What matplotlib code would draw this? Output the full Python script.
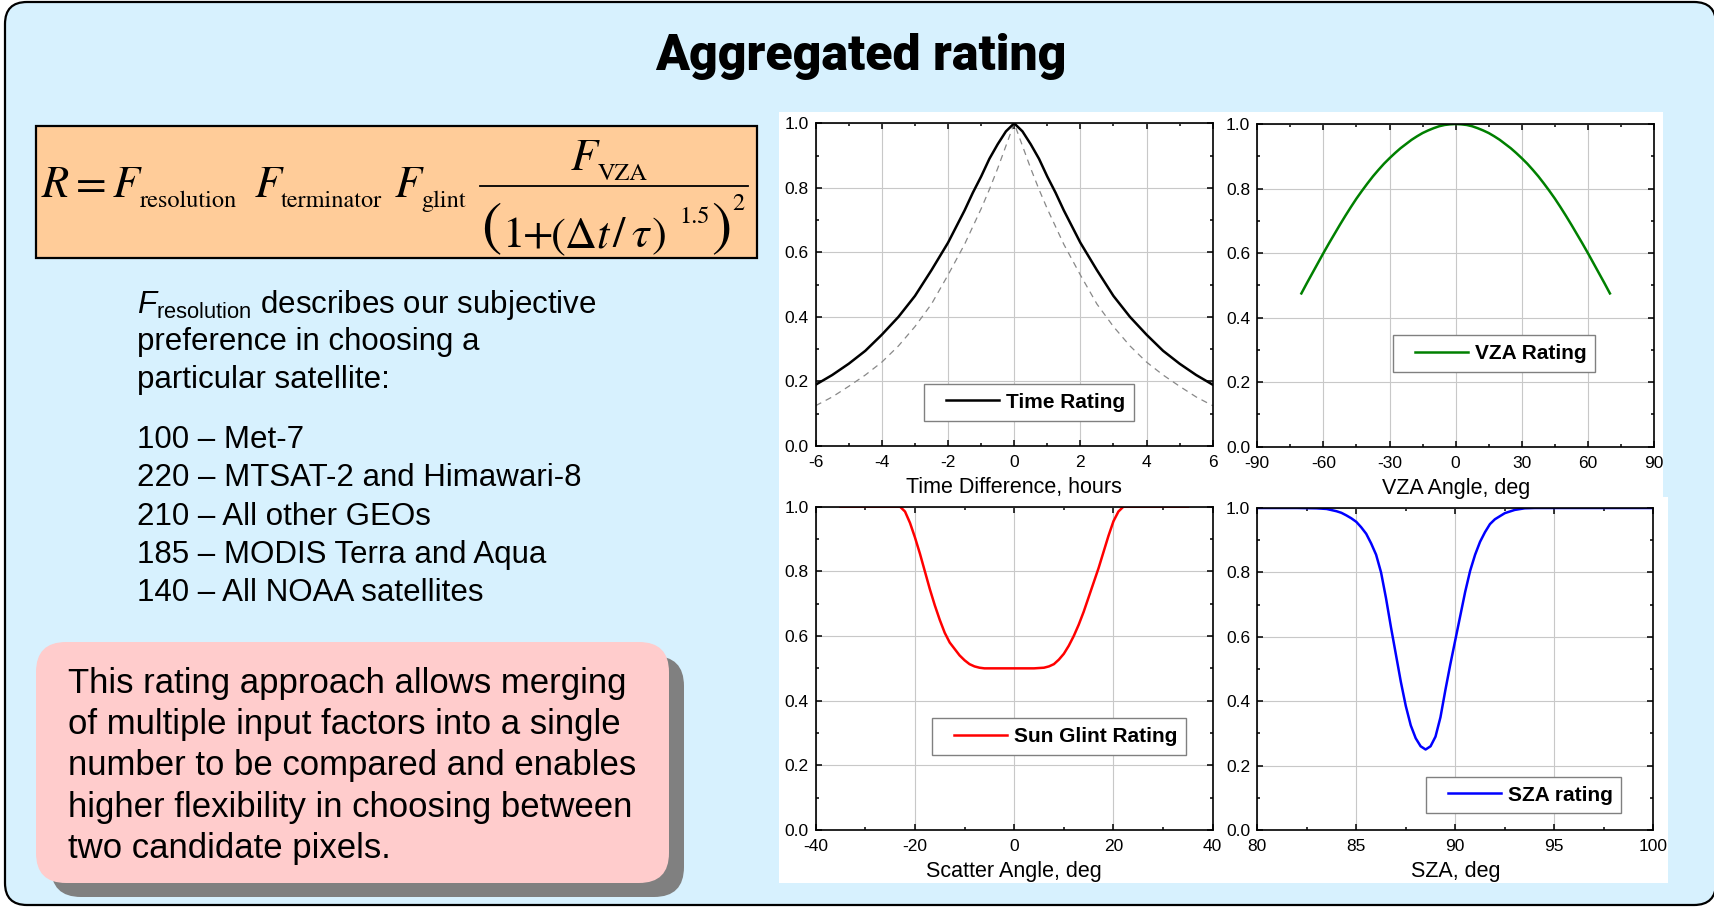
import numpy as np
import matplotlib.pyplot as plt
from matplotlib.patches import FancyBboxPatch, Rectangle
from matplotlib.ticker import MultipleLocator, FormatStrFormatter
from matplotlib.legend_handler import HandlerLine2D

# ---- data ----
time_hours = [-6, -5.5, -5, -4.5, -4, -3.5, -3, -2.5, -2, -1.5, -1.25, -1, -0.75, -0.5, -0.25, 0,
              0.25, 0.5, 0.75, 1, 1.25, 1.5, 2, 2.5, 3, 3.5, 4, 4.5, 5, 5.5, 6]
time_rating = [0.19, 0.22, 0.255, 0.295, 0.345, 0.40, 0.465, 0.545, 0.63, 0.73, 0.785, 0.835, 0.89, 0.935, 0.975, 1.0,
               0.975, 0.935, 0.89, 0.835, 0.785, 0.73, 0.63, 0.545, 0.465, 0.40, 0.345, 0.295, 0.255, 0.22, 0.19]
time_ref = [0.125, 0.152, 0.185, 0.22, 0.26, 0.31, 0.37, 0.44, 0.53, 0.625, 0.68, 0.735, 0.795, 0.86, 0.93, 1.0,
            0.93, 0.86, 0.795, 0.735, 0.68, 0.625, 0.53, 0.44, 0.37, 0.31, 0.26, 0.22, 0.185, 0.152, 0.125]

vza_deg = [-70, -67.5, -65, -62.5, -60, -57.5, -55, -52.5, -50, -47.5, -45, -42.5, -40, -37.5, -35,
           -32.5, -30, -27.5, -25, -22.5, -20, -17.5, -15, -12.5, -10, -7.5, -5, -2.5, 0,
           2.5, 5, 7.5, 10, 12.5, 15, 17.5, 20, 22.5, 25, 27.5, 30, 32.5, 35, 37.5, 40,
           42.5, 45, 47.5, 50, 52.5, 55, 57.5, 60, 62.5, 65, 67.5, 70]
vza_rating = [0.475, 0.507, 0.538, 0.569, 0.600, 0.630, 0.659, 0.688, 0.716, 0.743, 0.769, 0.793, 0.816, 0.838, 0.858,
              0.877, 0.894, 0.910, 0.925, 0.938, 0.951, 0.962, 0.972, 0.980, 0.987, 0.993, 0.997, 0.999, 1.0,
              0.999, 0.997, 0.993, 0.987, 0.980, 0.972, 0.962, 0.951, 0.938, 0.925, 0.910, 0.894, 0.877, 0.858,
              0.838, 0.816, 0.793, 0.769, 0.743, 0.716, 0.688, 0.659, 0.630, 0.600, 0.569, 0.538, 0.507, 0.475]

glint_deg = [-35, -30, -25, -23, -22, -21, -20, -19, -18, -17, -16, -15, -14, -13, -12, -11, -10, -9, -8, -7, -6,
             -4, -2, 0, 2, 4, 6, 7, 8, 9, 10, 11, 12, 13, 14, 15, 16, 17, 18, 19, 20, 21, 22, 23, 25, 30, 35]
glint_rating = [1.0, 1.0, 1.0, 1.0, 0.985, 0.95, 0.905, 0.855, 0.80, 0.745, 0.695, 0.65, 0.61, 0.58, 0.56, 0.54,
                0.525, 0.513, 0.506, 0.502, 0.50, 0.50, 0.50, 0.50, 0.50, 0.50, 0.502, 0.506, 0.513, 0.527, 0.545,
                0.57, 0.60, 0.635, 0.675, 0.72, 0.765, 0.81, 0.86, 0.91, 0.955, 0.985, 1.0, 1.0, 1.0, 1.0, 1.0]

sza_deg = [80, 82, 83, 83.5, 84, 84.25, 84.5, 84.75, 85, 85.25, 85.5, 85.75, 86, 86.25, 86.5, 86.75, 87,
           87.25, 87.5, 87.75, 88, 88.25, 88.5, 88.75, 89, 89.25, 89.5, 89.75, 90, 90.25, 90.5, 90.75, 91,
           91.25, 91.5, 91.75, 92, 92.5, 93, 93.5, 94, 100]
sza_rating = [1.0, 1.0, 0.999, 0.997, 0.99, 0.985, 0.977, 0.968, 0.957, 0.94, 0.92, 0.89, 0.855, 0.80, 0.72, 0.63,
              0.545, 0.46, 0.385, 0.325, 0.285, 0.26, 0.25, 0.26, 0.29, 0.35, 0.435, 0.515, 0.59, 0.665, 0.74,
              0.805, 0.855, 0.895, 0.925, 0.95, 0.965, 0.984, 0.994, 0.999, 1.0, 1.0]

desc_lines = [r"$F_{\mathrm{resolution}}$ describes our subjective",
              "preference in choosing a",
              "particular satellite:"]
sat_lines = ["100 \u2013 Met-7",
             "220 \u2013 MTSAT-2 and Himawari-8",
             "210 \u2013 All other GEOs",
             "185 \u2013 MODIS Terra and Aqua",
             "140 \u2013 All NOAA satellites"]
note_lines = ["This rating approach allows merging",
              "of multiple input factors into a single",
              "number to be compared and enables",
              "higher flexibility in choosing between",
              "two candidate pixels."]

W, H = 1714, 907
plt.rcParams['font.family'] = ['Liberation Sans', 'DejaVu Sans']
plt.rcParams['axes.unicode_minus'] = False
plt.rcParams['mathtext.fontset'] = 'custom'
plt.rcParams['mathtext.rm'] = 'Liberation Sans'
plt.rcParams['mathtext.it'] = 'Liberation Sans:italic'
plt.rcParams['mathtext.bf'] = 'Liberation Sans:bold'

fig = plt.figure(figsize=(W / 100, H / 100), dpi=100)
fig.patch.set_facecolor('white')

# slide background drawn in pixel units
bg = fig.add_axes([0, 0, 1, 1])
bg.set_xlim(0, W)
bg.set_ylim(H, 0)
bg.axis('off')

r = 22
bg.add_patch(FancyBboxPatch((5 + r, 2 + r), 1716 - 5 - 2 * r, 905 - 2 - 2 * r,
                            boxstyle='round,pad=%d' % r, fc='#d7f1fe', ec='black', lw=1.6))
bg.text(861, 70, "Aggregated rating", ha='center', va='baseline', fontsize=36,
        family=['Roboto', 'DejaVu Sans'], weight='black')

# formula box, the formula is set piece by piece in a Times-like face
bg.add_patch(Rectangle((36, 126), 721, 132, fc='#ffcc99', ec='black', lw=1.6))
serif = ['STIXGeneral', 'Liberation Serif']
big, small = 32, 17.5
pieces = [("R", 42, 197, big, 'italic'), ("=", 76, 197, big, 'normal'),
          ("F", 113, 197, big, 'italic'), ("resolution", 140, 207, small, 'normal'),
          ("F", 255, 197, big, 'italic'), ("terminator", 281, 207, small, 'normal'),
          ("F", 395, 197, big, 'italic'), ("glint", 421, 207, small, 'normal'),
          ("F", 571, 170, big, 'italic'), ("VZA", 598, 180, small, 'normal'),
          ("(", 481, 243, 44, 'normal'), ("1", 502, 247, big, 'normal'), ("+", 523, 247, big, 'normal'),
          ("(\u0394", 551, 247, big, 'normal'), ("t", 596, 247, big, 'italic'), ("/", 612, 247, big, 'normal'),
          ("\u03c4", 631, 247, big, 'italic'), (")", 652, 247, big, 'normal'),
          ("1.5", 679, 223, small, 'normal'), (")", 711, 243, 44, 'normal'), ("2", 732, 210, small, 'normal')]
for s, x, yb, fs, st in pieces:
    bg.text(x, yb, s, ha='left', va='baseline', fontsize=fs, style=st, family=serif)
bg.plot([480, 748], [186, 186], color='black', lw=1.3)

for i, line in enumerate(desc_lines):
    bg.text(137, [313, 350, 388][i], line, ha='left', va='baseline', fontsize=22.5)
for i, line in enumerate(sat_lines):
    bg.text(137, 448 + i * 38.3, line, ha='left', va='baseline', fontsize=22.5)

# pink note with shadow
rr = 30
bg.add_patch(FancyBboxPatch((36 + 15 + rr, 642 + 14 + rr), 633 - 2 * rr, 241 - 2 * rr,
                            boxstyle='round,pad=%d' % rr, fc='#808080', ec='none'))
bg.add_patch(FancyBboxPatch((36 + rr, 642 + rr), 633 - 2 * rr, 241 - 2 * rr,
                            boxstyle='round,pad=%d' % rr, fc='#ffcccc', ec='none'))
for i, line in enumerate(note_lines):
    bg.text(68, 693 + i * 41.2, line, ha='left', va='baseline', fontsize=25)

# white canvas behind the four plots
bg.add_patch(Rectangle((779, 112), 1663 - 779, 498 - 112, fc='white', ec='none'))
bg.add_patch(Rectangle((779, 497), 1668 - 779, 883 - 497, fc='white', ec='none'))


class LeftGapLine(HandlerLine2D):
    # leaves some blank room left of the legend sample line
    def create_artists(self, legend, orig_handle, xdescent, ydescent, width, height, fontsize, trans):
        arts = super().create_artists(legend, orig_handle, xdescent, ydescent, width, height, fontsize, trans)
        x = np.asarray(arts[0].get_xdata(), dtype=float)
        arts[0].set_xdata(np.linspace(x[0] + 0.2 * (x[-1] - x[0]), x[-1], len(x)))
        return arts


def panel(l, t, rgt, b):
    return fig.add_axes([l / W, 1 - b / H, (rgt - l) / W, (b - t) / H])


def style(ax, xlim, xmaj, xmin, xlabel):
    ax.set_xlim(xlim)
    ax.set_ylim(0, 1)
    ax.xaxis.set_major_locator(MultipleLocator(xmaj))
    ax.xaxis.set_minor_locator(MultipleLocator(xmin))
    ax.yaxis.set_major_locator(MultipleLocator(0.2))
    ax.yaxis.set_minor_locator(MultipleLocator(0.1))
    ax.yaxis.set_major_formatter(FormatStrFormatter('%.1f'))
    ax.tick_params(which='both', direction='in', top=True, right=True, width=1.1, labelsize=12.5)
    ax.tick_params(which='major', length=4.5)
    ax.tick_params(which='minor', length=2.5)
    ax.tick_params(axis='x', pad=6.5)
    ax.tick_params(axis='y', pad=5)
    ax.grid(True, which='major', color='#c8c8c8', lw=0.8)
    ax.set_axisbelow(True)
    for s in ax.spines.values():
        s.set_linewidth(1.2)
    ax.set_xlabel(xlabel, fontsize=15.5, labelpad=5)


def legend(ax, x0, y0):
    line = ax.get_lines()[-1]
    leg = ax.legend(handles=[line], loc='upper left', bbox_to_anchor=(x0, y0),
                    prop={'weight': 'bold', 'size': 15}, handler_map={line: LeftGapLine()},
                    frameon=True, fancybox=False, edgecolor='#808080', framealpha=1,
                    handlelength=3.2, handletextpad=0.3, borderpad=0.42, borderaxespad=0)
    leg.get_frame().set_linewidth(1.0)


ax1 = panel(815.7, 123.3, 1212.7, 446)
ax1.plot(time_hours, time_ref, color='#888888', lw=0.9, ls=(0, (5, 4)))
ax1.plot(time_hours, time_rating, color='black', lw=1.8, label='Time Rating')
style(ax1, (-6, 6), 2, 1, 'Time Difference, hours')
legend(ax1, 0.273, 0.192)

ax2 = panel(1257.3, 124, 1654, 446.7)
ax2.plot(vza_deg, vza_rating, color='#008000', lw=1.8, label='VZA Rating')
style(ax2, (-90, 90), 30, 15, 'VZA Angle, deg')
legend(ax2, 0.342, 0.346)

ax3 = panel(815.7, 506.7, 1212.7, 830)
ax3.plot(glint_deg, glint_rating, color='#ff0000', lw=1.8, label='Sun Glint Rating')
style(ax3, (-40, 40), 20, 10, 'Scatter Angle, deg')
legend(ax3, 0.293, 0.346)

ax4 = panel(1257.3, 508, 1653.3, 830)
ax4.plot(sza_deg, sza_rating, color='#0000ff', lw=1.8, label='SZA rating')
style(ax4, (80, 100), 5, 2.5, 'SZA, deg')
legend(ax4, 0.426, 0.165)

fig.savefig('out.png', dpi=100)
